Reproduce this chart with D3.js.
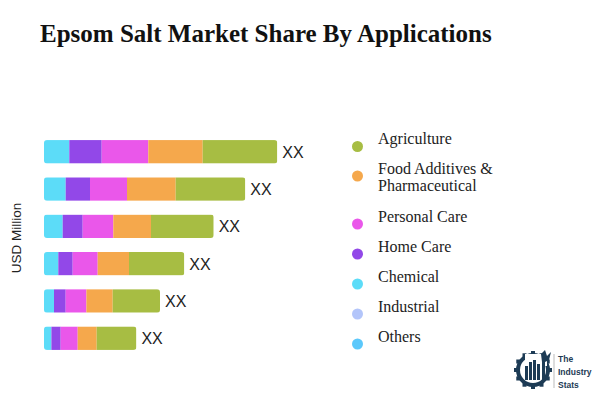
<!DOCTYPE html>
<html><head><meta charset="utf-8">
<script src="https://cdn.jsdelivr.net/npm/d3@7"></script>
<style>body{margin:0;background:#fff}svg{display:block}</style>
</head><body>
<svg id="c" width="600" height="400"></svg>
<script>
const title = "Epsom Salt Market Share By Applications";
const yLabel = "USD Million";
const categories = ["Row 1","Row 2","Row 3","Row 4","Row 5","Row 6"];
const seriesNames = ["Chemical","Home Care","Personal Care","Food Additives & Pharmaceutical","Agriculture","Industrial","Others"];
const chemical = [25.3, 21.7, 18.7, 14.3, 10.0, 7.4];
const homeCare = [32.4, 24.3, 20.0, 14.4, 11.7, 9.3];
const personalCare = [46.6, 37.0, 30.6, 25.0, 20.7, 17.0];
const foodPharma = [54.4, 48.7, 37.7, 31.3, 26.3, 19.0];
const agriculture = [74.6, 69.6, 62.7, 55.3, 47.3, 39.7];
const industrial = [0, 0, 0, 0, 0, 0];
const others = [0, 0, 0, 0, 0, 0];
const barLabels = ["XX","XX","XX","XX","XX","XX"];
const legendOrder = ["Agriculture","Food Additives & Pharmaceutical","Personal Care","Home Care","Chemical","Industrial","Others"];
const colors = {"Agriculture":"#a7bd43","Food Additives & Pharmaceutical":"#f5a84c","Personal Care":"#ea57ea","Home Care":"#9248e8","Chemical":"#5cdcf8","Industrial":"#b3c5fa","Others":"#5bc8fb"};

const seriesData = {"Chemical":chemical,"Home Care":homeCare,"Personal Care":personalCare,"Food Additives & Pharmaceutical":foodPharma,"Agriculture":agriculture,"Industrial":industrial,"Others":others};
const rows = categories.map((c,i)=>{const o={cat:c,label:barLabels[i]}; seriesNames.forEach(s=>o[s]=seriesData[s][i]); return o;});

const svg = d3.select("#c");
svg.append("text").attr("x",40).attr("y",41.5).attr("font-family","Liberation Serif, Times New Roman, serif")
  .attr("font-weight","bold").attr("font-size",25).attr("fill","#111").text(title);

const x = d3.scaleLinear().domain([0,300]).range([44,344]);
const y = d3.scaleBand().domain(categories).range([133,357]).paddingInner(0.37).paddingOuter(0.19);

const stack = d3.stack().keys(seriesNames)(rows);
const g = svg.append("g");
const defs = svg.append("defs");
rows.forEach((r,i)=>{
  const tot = d3.sum(seriesNames, s=>r[s]);
  defs.append("clipPath").attr("id","clip"+i).append("rect")
    .attr("x",x(0)).attr("y",y(r.cat)).attr("width",x(tot)-x(0)).attr("height",y.bandwidth()).attr("rx",3);
});
stack.forEach(layer=>{
  g.selectAll(null).data(layer).enter().append("rect")
    .attr("clip-path",(d,i)=>`url(#clip${i})`)
    .attr("x",d=>x(d[0])).attr("y",d=>y(d.data.cat))
    .attr("width",d=>Math.max(0,x(d[1])-x(d[0]))).attr("height",y.bandwidth())
    .attr("fill",colors[layer.key]);
});
g.selectAll(".lbl").data(rows).enter().append("text")
  .attr("x",d=>x(d3.sum(seriesNames,s=>d[s]))+5).attr("y",d=>y(d.cat)+y.bandwidth()/2+6)
  .attr("font-family","Liberation Sans, Arial, sans-serif").attr("font-size",16).attr("fill","#222").text(d=>d.label);

svg.append("text").attr("transform","translate(21,238) rotate(-90)").attr("text-anchor","middle")
  .attr("font-family","Liberation Sans, Arial, sans-serif").attr("font-size",13.5).attr("fill","#222").text(yLabel);

// legend
const legY = [146.5,176,224,254,284,314,344];
const leg = svg.append("g");
legendOrder.forEach((name,i)=>{
  leg.append("circle").attr("cx",357.5).attr("cy",legY[i]).attr("r",5.5).attr("fill",colors[name]);
  const t = leg.append("text").attr("x",378).attr("y",legY[i]-2.5)
    .attr("font-family","Liberation Serif, Times New Roman, serif").attr("font-size",16).attr("fill","#222");
  if(name==="Food Additives & Pharmaceutical"){
    t.append("tspan").attr("x",378).attr("dy",0).text("Food Additives &");
    t.append("tspan").attr("x",378).attr("dy",17.5).text("Pharmaceutical");
  } else t.text(name);
});

// logo
const lg = svg.append("g").attr("transform","translate(533,370)");
const gear = d3.range(12).map(k=>{const a=k/12*2*Math.PI; return [Math.cos(a),Math.sin(a)];});
lg.append("circle").attr("r",15).attr("fill","none").attr("stroke","#1d3b55").attr("stroke-width",4);
gear.forEach(p=>lg.append("rect").attr("x",p[0]*17-2).attr("y",p[1]*17-2).attr("width",4).attr("height",4).attr("fill","#1d3b55"));
lg.append("rect").attr("x",-8).attr("y",-16).attr("width",22).attr("height",12).attr("fill","#fff");
[[-8,-4,3,14],[-4,-8,3,18],[0,-10,3,20],[4,-6,3,16]].forEach(b=>lg.append("rect").attr("x",b[0]).attr("y",b[1]).attr("width",b[2]).attr("height",b[3]).attr("fill","#1d3b55"));
lg.append("path").attr("d","M8,-16 L12,-20 L14,-14 L18,-18 L16,-10 L12,-8 L12,10 L9,10 L9,-8 Z").attr("fill","#1d3b55");
svg.append("line").attr("x1",554).attr("x2",554).attr("y1",354).attr("y2",388).attr("stroke","#bbb").attr("stroke-width",1);
["The","Industry","Stats"].forEach((w,i)=>svg.append("text").attr("x",558).attr("y",362+i*13)
  .attr("font-family","Liberation Sans, Arial, sans-serif").attr("font-weight","bold").attr("font-size",8.5).attr("fill","#1d3b55").text(w));
</script>
</body></html>
